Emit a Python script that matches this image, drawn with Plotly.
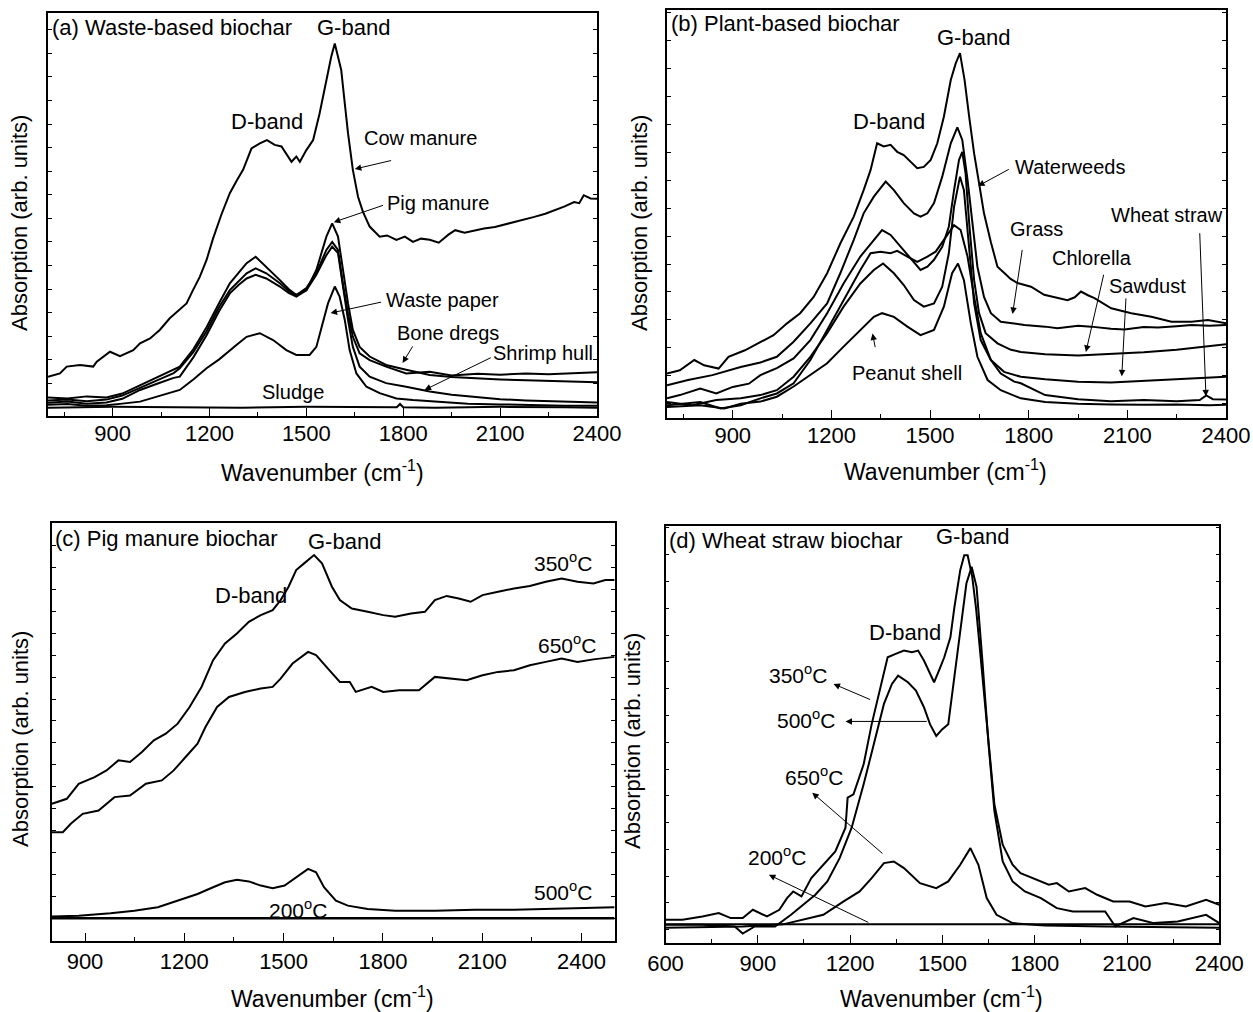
import plotly.graph_objects as go

W, H = 1253, 1012
FONT = "Liberation Sans, Arial, Helvetica, sans-serif"

# ---------------- Panel (a) Waste-based biochar ----------------
a_cow_x = [700, 737, 758, 799, 840, 851, 892, 923, 964, 985, 1016, 1046, 1077, 1108, 1129, 1149, 1170, 1191,
           1211, 1237, 1263, 1285, 1304, 1330, 1356, 1378, 1402, 1423, 1438, 1454, 1469, 1480, 1500, 1521,
           1541, 1562, 1577, 1588, 1598, 1608, 1619, 1629, 1644, 1660, 1675, 1696, 1727, 1750, 1779, 1805,
           1830, 1855, 1882, 1910, 1940, 1961, 1990, 2023, 2050, 2084, 2115, 2145, 2175, 2206, 2240, 2268,
           2300, 2329, 2345, 2359, 2380, 2400]
a_cow_y = [9.7, 10.5, 12.2, 12.6, 12.2, 13.4, 15.9, 14.8, 16.3, 18.0, 19.2, 21.3, 24.2, 26.3, 27.9, 31.2, 34.5, 38.7,
           44.0, 50.0, 55.3, 58.5, 61.1, 66.4, 67.7, 68.5, 67.3, 66.9, 65.2, 63.1, 64.4, 63.1, 66.0, 68.5,
           75.1, 83.4, 89.2, 92.5, 89.2, 85.9, 77.6, 70.2, 61.1, 54.4, 50.7, 47.0, 44.5, 44.8, 43.7, 44.5,
           43.2, 44.0, 43.7, 43.0, 45.0, 46.1, 45.5, 46.1, 46.5, 46.9, 47.5, 48.1, 48.8, 49.4, 50.2, 51.0,
           52.0, 53.1, 52.8, 54.8, 54.0, 53.9]

a_mid_x = [700, 760, 820, 881, 930, 985, 1040, 1089, 1108, 1150, 1191, 1230, 1263, 1290, 1315, 1343, 1376, 1418,
           1445, 1469, 1500, 1531, 1562, 1580, 1598, 1613, 1629, 1644, 1665, 1696, 1747, 1809, 1882, 1950,
           2030, 2100, 2180, 2250, 2320, 2400]
a_pig_y = [4.5, 4.3, 4.8, 4.5, 5.5, 7.6, 9.5, 11.4, 12.2, 16.5, 22.0, 28.0, 32.9, 35.5, 37.9, 39.5, 37.0, 33.7,
           31.5, 30.0, 31.2, 36.2, 44.5, 47.8, 44.5, 36.2, 27.9, 21.3, 17.1, 14.7, 12.6, 11.4, 10.1, 9.6,
           9.2, 9.0, 8.8, 8.6, 8.4, 8.3]
a_bone_y = [3.8, 4.0, 3.6, 4.0, 5.0, 7.0, 8.8, 10.6, 11.8, 15.8, 21.0, 27.0, 31.2, 33.5, 35.4, 36.6, 35.4, 32.9,
            31.0, 30.0, 31.7, 35.4, 41.2, 43.2, 41.2, 32.9, 25.4, 19.6, 15.5, 13.8, 12.2, 10.5, 10.9, 10.0,
            10.4, 10.2, 10.5, 10.3, 10.6, 10.8]
a_shrimp_y = [3.2, 3.5, 3.0, 3.3, 4.2, 6.4, 8.0, 9.4, 9.7, 14.5, 20.0, 26.0, 30.4, 32.5, 34.1, 35.0, 34.1, 32.1,
              30.5, 29.6, 31.2, 35.0, 39.9, 42.0, 40.4, 32.1, 23.8, 17.1, 12.2, 9.7, 8.1, 7.2, 6.0, 5.2,
              4.6, 4.1, 3.8, 3.6, 3.4, 3.3]

a_paper_x = [700, 760, 820, 881, 930, 985, 1040, 1089, 1108, 1150, 1191, 1230, 1263, 1290, 1315, 1356, 1397, 1438,
             1469, 1510, 1531, 1552, 1567, 1588, 1603, 1619, 1634, 1655, 1686, 1727, 1779, 1830, 1912, 2000,
             2100, 2200, 2300, 2400]
a_paper_y = [2.7, 2.9, 2.5, 2.6, 3.0, 3.5, 4.8, 6.0, 6.4, 9.0, 11.8, 14.0, 16.3, 18.0, 19.6, 20.5, 18.8, 16.3,
             15.1, 15.1, 17.1, 23.8, 27.9, 32.1, 29.6, 23.8, 16.3, 10.5, 7.2, 5.6, 4.3, 3.9, 3.5, 3.0,
             2.8, 2.6, 2.5, 2.5]

a_sludge_x = [700, 900, 1100, 1300, 1500, 1700, 1780, 1790, 1800, 1900, 2100, 2300, 2400]
a_sludge_y = [2.0, 2.2, 2.1, 2.0, 2.2, 2.1, 2.1, 2.9, 2.1, 2.0, 2.2, 2.1, 2.0]

# ---------------- Panel (b) Plant-based biochar ----------------
b_ww_x = [700, 739, 783, 813, 857, 887, 937, 984, 1024, 1065, 1105, 1146, 1187, 1227, 1268, 1298, 1319, 1339,
          1359, 1380, 1400, 1420, 1441, 1461, 1481, 1502, 1522, 1542, 1563, 1578, 1591, 1605, 1619, 1634,
          1649, 1664, 1685, 1705, 1725, 1745, 1766, 1807, 1847, 1888, 1918, 1940, 1959, 1980, 2000, 2051,
          2112, 2173, 2234, 2295, 2345, 2400]
b_ww_y = [10.8, 11.6, 14.1, 12.8, 12.0, 14.9, 16.5, 18.6, 20.2, 23.1, 25.6, 29.6, 35.4, 42.7, 49.3, 55.8, 60.7, 67.3,
          66.5, 66.9, 65.2, 64.4, 62.8, 61.2, 61.5, 63.2, 67.3, 73.8, 82.8, 86.9, 89.4, 82.8, 73.8, 64.8,
          57.5, 50.1, 43.0, 37.0, 35.5, 34.0, 33.0, 32.1, 30.1, 29.3, 28.8, 29.5, 30.9, 30.0, 29.3, 26.8,
          25.6, 24.7, 23.5, 23.5, 23.9, 23.1]

b_grass_x = [700, 764, 838, 924, 984, 1034, 1085, 1136, 1187, 1227, 1268, 1298, 1329, 1365, 1390, 1420, 1451, 1471,
             1492, 1512, 1537, 1563, 1583, 1598, 1614, 1629, 1644, 1664, 1685, 1715, 1756, 1787, 1850, 1888,
             1950, 1990, 2050, 2091, 2150, 2193, 2250, 2295, 2350, 2400]
b_grass_y = [7.9, 9.2, 10.4, 12.4, 13.5, 14.9, 18.6, 23.1, 28.0, 35.4, 43.6, 50.1, 54.2, 57.9, 55.8, 52.6, 50.1, 49.3,
             50.1, 52.6, 59.1, 67.3, 71.2, 68.1, 58.3, 46.8, 37.0, 29.6, 25.6, 23.5, 23.1, 22.7, 22.3, 21.9,
             22.5, 22.3, 21.8, 21.6, 22.2, 22.1, 22.4, 22.7, 22.5, 22.7]

b_chl_x = [700, 739, 801, 850, 900, 949, 984, 1034, 1085, 1136, 1187, 1237, 1288, 1329, 1354, 1380, 1410, 1441,
           1471, 1492, 1512, 1537, 1557, 1573, 1588, 1598, 1608, 1619, 1634, 1649, 1669, 1705, 1746, 1776,
           1850, 1950, 2050, 2150, 2250, 2350, 2400]
b_chl_y = [4.7, 5.5, 7.1, 5.9, 7.5, 8.3, 10.4, 12.1, 14.5, 19.0, 25.6, 32.9, 39.5, 43.6, 46.0, 44.8, 41.9, 39.1,
           36.2, 37.0, 38.7, 41.9, 46.8, 55.8, 63.2, 65.2, 59.9, 47.7, 33.7, 25.6, 20.7, 18.2, 16.6, 16.1,
           15.5, 15.2, 15.6, 16.0, 16.6, 17.6, 18.0]

b_saw_x = [700, 776, 850, 924, 984, 1034, 1085, 1136, 1187, 1237, 1288, 1329, 1357, 1390, 1420, 1451, 1481, 1512,
           1537, 1557, 1573, 1591, 1603, 1619, 1634, 1654, 1685, 1725, 1776, 1850, 1950, 2050, 2150, 2250,
           2350, 2400]
b_saw_y = [3.8, 3.0, 4.3, 4.7, 5.5, 6.7, 10.0, 14.9, 20.7, 27.2, 32.9, 36.2, 37.8, 35.4, 32.5, 28.8, 27.2, 28.0,
           32.1, 40.3, 51.7, 59.1, 55.8, 41.9, 28.0, 19.0, 14.1, 11.2, 10.0, 9.4, 8.8, 8.6, 9.0, 9.3,
           9.8, 10.0]

b_ws_x = [700, 801, 863, 924, 984, 1034, 1085, 1136, 1187, 1237, 1288, 1319, 1349, 1380, 1400, 1431, 1461, 1492,
          1517, 1542, 1573, 1593, 1614, 1634, 1654, 1685, 1715, 1756, 1776, 1850, 1950, 2050, 2150, 2250,
          2320, 2340, 2360, 2400]
b_ws_y = [3.0, 3.8, 2.2, 3.0, 4.7, 5.9, 8.4, 14.1, 21.5, 28.8, 36.2, 40.3, 40.7, 40.3, 40.9, 39.5, 38.2, 39.5,
          40.7, 43.6, 47.2, 46.0, 39.5, 29.6, 20.7, 14.1, 10.8, 8.8, 8.4, 5.5, 4.5, 4.0, 4.3, 4.0,
          4.3, 5.4, 4.5, 4.4]

b_pn_x = [700, 801, 875, 924, 984, 1034, 1085, 1136, 1187, 1237, 1288, 1329, 1354, 1390, 1431, 1471, 1512, 1542,
          1567, 1585, 1603, 1624, 1644, 1675, 1715, 1776, 1850, 1950, 2050, 2150, 2250, 2350, 2400]
b_pn_y = [2.6, 3.0, 2.2, 3.4, 3.9, 5.1, 7.6, 10.4, 13.3, 17.4, 21.5, 24.7, 25.6, 24.7, 22.3, 20.2, 21.5, 27.2,
          35.4, 37.8, 33.7, 23.1, 14.9, 9.2, 6.7, 4.7, 3.8, 3.4, 3.2, 3.1, 3.2, 3.0, 3.1]

# ---------------- Panel (c) Pig manure biochar ----------------
c_350_x = [800, 845, 881, 929, 965, 1001, 1036, 1072, 1108, 1144, 1180, 1216, 1252, 1287, 1323, 1359, 1395, 1431,
           1467, 1491, 1515, 1538, 1562, 1592, 1616, 1646, 1670, 1706, 1754, 1801, 1837, 1885, 1927, 1957,
           1993, 2029, 2065, 2101, 2148, 2196, 2244, 2292, 2340, 2388, 2436, 2472, 2500]
c_350_y = [32.8, 34.0, 37.6, 39.2, 40.8, 43.2, 42.8, 45.2, 48.0, 49.6, 52.0, 56.0, 60.8, 67.2, 71.2, 73.6, 76.4, 78.0,
           79.2, 81.6, 84.8, 88.8, 90.4, 92.4, 90.4, 84.8, 81.6, 79.6, 78.8, 78.0, 77.6, 78.4, 78.8, 81.6,
           82.6, 82.0, 81.2, 82.8, 83.6, 84.4, 85.0, 86.0, 86.8, 86.0, 85.6, 86.4, 86.4]

c_650_x = [800, 833, 857, 893, 941, 989, 1036, 1084, 1132, 1168, 1204, 1240, 1264, 1299, 1335, 1383, 1431, 1467,
           1491, 1527, 1574, 1598, 1634, 1670, 1700, 1718, 1766, 1801, 1849, 1909, 1957, 2005, 2053, 2101,
           2148, 2196, 2244, 2292, 2340, 2388, 2436, 2500]
c_650_y = [26.0, 26.0, 28.0, 30.4, 31.2, 34.4, 34.8, 37.6, 38.4, 40.8, 44.0, 47.2, 51.2, 56.0, 58.4, 59.6, 60.4, 60.8,
           62.8, 66.4, 69.2, 68.4, 65.2, 62.0, 62.0, 59.6, 60.8, 59.6, 60.0, 60.0, 63.2, 62.8, 62.4, 63.6,
           64.4, 64.8, 66.0, 66.8, 67.6, 66.8, 67.4, 68.0]

c_500_x = [800, 881, 977, 1049, 1120, 1180, 1240, 1287, 1323, 1359, 1395, 1431, 1467, 1503, 1538, 1574, 1598, 1622,
           1658, 1694, 1754, 1837, 1957, 2077, 2196, 2316, 2436, 2500]
c_500_y = [5.8, 6.0, 6.6, 7.2, 8.0, 9.6, 11.2, 12.8, 14.0, 14.6, 14.2, 13.2, 12.6, 13.2, 15.2, 17.2, 16.4, 12.8,
           9.6, 8.4, 7.6, 7.2, 7.2, 7.4, 7.4, 7.6, 7.8, 8.0]

c_200_x = [800, 2500]
c_200_y = [5.4, 5.4]

# ---------------- Panel (d) Wheat straw biochar ----------------
d_350_x = [600, 655, 720, 773, 812, 851, 884, 930, 970, 995, 1015, 1042, 1074, 1113, 1152, 1185, 1192, 1211, 1244,
           1270, 1296, 1322, 1348, 1375, 1401, 1421, 1440, 1473, 1493, 1506, 1526, 1539, 1558, 1571, 1582,
           1597, 1610, 1630, 1650, 1669, 1696, 1728, 1754, 1794, 1846, 1872, 1911, 1964, 2003, 2055, 2108,
           2160, 2226, 2291, 2357, 2400]
d_350_y = [5.5, 5.5, 6.3, 7.1, 5.9, 5.9, 7.9, 6.3, 7.9, 10.7, 12.3, 11.1, 15.5, 18.7, 21.9, 27.6, 34.8, 35.6, 42.8,
           52.4, 60.5, 68.5, 69.3, 70.1, 69.7, 70.1, 67.7, 62.5, 66.1, 68.5, 73.3, 80.5, 89.4, 93.0, 93.0,
           87.8, 79.8, 63.7, 47.6, 33.2, 23.5, 18.7, 16.7, 15.5, 13.9, 14.3, 12.3, 13.1, 11.5, 9.9, 9.9,
           8.7, 9.5, 8.7, 10.3, 9.1]

d_500_x = [600, 720, 825, 851, 890, 956, 1008, 1048, 1087, 1126, 1166, 1205, 1244, 1277, 1310, 1336, 1356, 1388,
           1414, 1440, 1460, 1480, 1499, 1519, 1539, 1558, 1578, 1595, 1611, 1630, 1650, 1669, 1696, 1728,
           1768, 1820, 1872, 1924, 1977, 2029, 2062, 2121, 2187, 2265, 2357, 2400]
d_500_y = [4.3, 4.3, 3.9, 2.2, 3.9, 3.9, 6.7, 9.1, 11.5, 14.7, 20.3, 27.6, 38.0, 47.6, 57.3, 62.1, 64.1, 62.5,
           60.5, 56.5, 52.4, 49.6, 51.2, 52.4, 63.7, 75.7, 86.2, 90.2, 85.4, 67.7, 47.6, 31.6, 19.5, 14.7,
           12.3, 10.7, 8.3, 7.5, 7.5, 7.5, 3.9, 5.9, 4.7, 5.1, 6.7, 4.7]

d_650_x = [600, 851, 982, 1048, 1113, 1179, 1231, 1270, 1310, 1342, 1375, 1427, 1480, 1519, 1558, 1591, 1617, 1644,
           1676, 1728, 1833, 2029, 2400]
d_650_y = [3.6, 3.9, 4.4, 5.5, 6.7, 9.9, 12.3, 15.5, 19.1, 19.5, 17.9, 14.3, 13.1, 14.7, 18.7, 22.7, 18.7, 10.7,
           6.7, 4.7, 4.1, 3.9, 3.6]

d_200_x = [600, 2400]
d_200_y = [4.4, 4.4]

# ---------------- figure ----------------
fig = go.Figure()

def add(x, y, ax, width=2):
    sfx = "" if ax == 1 else str(ax)
    fig.add_trace(go.Scatter(x=x, y=y, mode="lines", line=dict(color="black", width=width),
                             xaxis="x" + sfx, yaxis="y" + sfx,
                             showlegend=False, hoverinfo="skip"))

add(a_cow_x, a_cow_y, 1)
add(a_mid_x, a_pig_y, 1)
add(a_mid_x, a_bone_y, 1)
add(a_mid_x, a_shrimp_y, 1)
add(a_paper_x, a_paper_y, 1)
add(a_sludge_x, a_sludge_y, 1)

add(b_ww_x, b_ww_y, 2)
add(b_grass_x, b_grass_y, 2)
add(b_chl_x, b_chl_y, 2)
add(b_saw_x, b_saw_y, 2)
add(b_ws_x, b_ws_y, 2)
add(b_pn_x, b_pn_y, 2)

add(c_350_x, c_350_y, 3)
add(c_650_x, c_650_y, 3)
add(c_500_x, c_500_y, 3)
add(c_200_x, c_200_y, 3, width=2.5)

add(d_350_x, d_350_y, 4)
add(d_500_x, d_500_y, 4)
add(d_650_x, d_650_y, 4)
add(d_200_x, d_200_y, 4)

def px_x(p):
    return p / W

def px_y(p):
    return 1 - p / H

panels = {
    1: dict(x=(48, 597), y=(13.3, 415.7), xr=[700, 2400], t0=900, m0=750, yt0=2.16, ydt=5.86, so=-3),
    2: dict(x=(667, 1226), y=(10, 417.5), xr=[700, 2400], t0=900, m0=750, yt0=3.4, ydt=6.85, so=-3),
    3: dict(x=(51.9, 614.6), y=(523.3, 940.7), xr=[800, 2500], t0=900, m0=750, yt0=5.4, ydt=5.25, so=0),
    4: dict(x=(665.5, 1219.3), y=(526, 942.7), xr=[600, 2400], t0=600, m0=750, yt0=3.1, ydt=6.43, so=0),
}

layout = dict(width=W, height=H, margin=dict(l=0, r=0, t=0, b=0, autoexpand=False),
              paper_bgcolor="white", plot_bgcolor="white",
              font=dict(family=FONT, color="black", size=20), showlegend=False)

for k, p in panels.items():
    sx = "" if k == 1 else str(k)
    layout["xaxis" + sx] = dict(
        domain=[px_x(p["x"][0]), px_x(p["x"][1])], anchor="y" + sx, range=p["xr"], automargin=False,
        tick0=p["t0"], dtick=300, ticks="inside", ticklen=8, tickwidth=1.3, tickcolor="black",
        ticklabelstandoff=p["so"],
        minor=dict(ticks="inside", ticklen=4, tick0=p["m0"], dtick=300, tickcolor="black", tickwidth=1),
        showline=True, linecolor="black", linewidth=1.5, mirror=True,
        showgrid=False, zeroline=False, tickfont=dict(size=22, family=FONT, color="black"))
    layout["yaxis" + sx] = dict(
        domain=[px_y(p["y"][1]), px_y(p["y"][0])], anchor="x" + sx, range=[0, 100], automargin=False,
        tick0=p["yt0"], dtick=p["ydt"], ticks="inside", ticklen=4, tickwidth=1, tickcolor="black",
        showticklabels=False, showline=True, linecolor="black", linewidth=1.5, mirror="ticks",
        showgrid=False, zeroline=False)

fig.update_layout(**layout)

ann = []

def text(k, x, y, s, anchor="center", size=20):
    sx = "" if k == 1 else str(k)
    ann.append(dict(xref="x" + sx, yref="y" + sx, x=x, y=y, text=s, showarrow=False,
                    xanchor=anchor, yanchor="middle", font=dict(size=size, family=FONT, color="black")))

def arrow(k, x0, y0, x1, y1):
    sx = "" if k == 1 else str(k)
    ann.append(dict(xref="x" + sx, yref="y" + sx, axref="x" + sx, ayref="y" + sx,
                    x=x1, y=y1, ax=x0, ay=y0, text="", showarrow=True,
                    arrowhead=2, arrowsize=1.3, arrowwidth=1, arrowcolor="black", standoff=0))

T, B, L, C = 22, 22, 20, 21   # panel title, band label, curve label, temperature label

# panel a
text(1, 707, 96.5, "(a) Waste-based biochar", anchor="left", size=T)
text(1, 1646, 96.5, "G-band", size=B)
text(1, 1377, 73.2, "D-band", size=B)
text(1, 1854, 69.0, "Cow manure", size=L)
arrow(1, 1767, 63.5, 1650, 61.3)
text(1, 1909, 52.8, "Pig manure", size=L)
arrow(1, 1742, 52.4, 1585, 48.1)
text(1, 1922, 28.7, "Waste paper", size=L)
arrow(1, 1736, 28.3, 1575, 25.5)
text(1, 1940, 20.6, "Bone dregs", size=L)
arrow(1, 1832, 17.6, 1798, 13.1)
text(1, 2234, 15.6, "Shrimp hull", size=L)
arrow(1, 2076, 14.6, 1866, 6.4)
text(1, 1458, 5.9, "Sludge", size=L)

# panel b
text(2, 705, 96.7, "(b) Plant-based biochar", anchor="left", size=T)
text(2, 1633, 93.3, "G-band", size=B)
text(2, 1374, 72.6, "D-band", size=B)
text(2, 1927, 61.5, "Waterweeds", size=L)
arrow(2, 1744, 61.1, 1646, 56.8)
text(2, 1823, 46.2, "Grass", size=L)
arrow(2, 1781, 41.5, 1751, 25.4)
text(2, 1991, 39.2, "Chlorella", size=L)
arrow(2, 2029, 35.4, 1974, 16.1)
text(2, 2162, 32.2, "Sawdust", size=L)
arrow(2, 2096, 29.6, 2083, 10.1)
text(2, 2220, 49.7, "Wheat straw", size=L)
arrow(2, 2320, 45.6, 2339, 5.2)
text(2, 1430, 11.0, "Peanut shell", size=L)
arrow(2, 1334, 16.9, 1325, 20.6)

# panel c
text(3, 804, 96.4, "(c) Pig manure biochar", anchor="left", size=T)
text(3, 1683, 95.6, "G-band", size=B)
text(3, 1401, 82.8, "D-band", size=B)
text(3, 2345, 90.8, "350<sup>o</sup>C", size=C)
text(3, 2357, 71.2, "650<sup>o</sup>C", size=C)
text(3, 2345, 12.0, "500<sup>o</sup>C", size=C)
text(3, 1542, 7.6, "200<sup>o</sup>C", size=C)

# panel d
text(4, 605, 96.6, "(d) Wheat straw biochar", anchor="left", size=T)
text(4, 1599, 97.4, "G-band", size=B)
text(4, 1378, 74.5, "D-band", size=B)
text(4, 1031, 64.5, "350<sup>o</sup>C", size=C)
arrow(4, 1270, 58.2, 1146, 62.1)
text(4, 1056, 53.7, "500<sup>o</sup>C", size=C)
arrow(4, 1454, 53.1, 1185, 53.1)
text(4, 1083, 40.0, "650<sup>o</sup>C", size=C)
arrow(4, 1310, 21.1, 1077, 36.0)
text(4, 961, 20.7, "200<sup>o</sup>C", size=C)
arrow(4, 1264, 4.7, 936, 16.3)

# axis titles
for (xc, yc) in [(322, 471), (945, 470), (332, 997), (941, 997)]:
    ann.append(dict(xref="paper", yref="paper", x=px_x(xc), y=px_y(yc), text="Wavenumber (cm<sup>-1</sup>)",
                    showarrow=False, xanchor="center", yanchor="middle",
                    font=dict(size=23, family=FONT, color="black")))
for (xc, yc) in [(20, 223), (640, 223), (20, 739), (632, 741)]:
    ann.append(dict(xref="paper", yref="paper", x=px_x(xc), y=px_y(yc), text="Absorption (arb. units)",
                    showarrow=False, xanchor="center", yanchor="middle", textangle=-90,
                    font=dict(size=22, family=FONT, color="black")))

fig.update_layout(annotations=ann)
fig.write_html("out.html", config={"displayModeBar": False},
               post_script="document.body.style.margin='0px';document.body.style.overflow='hidden';")
